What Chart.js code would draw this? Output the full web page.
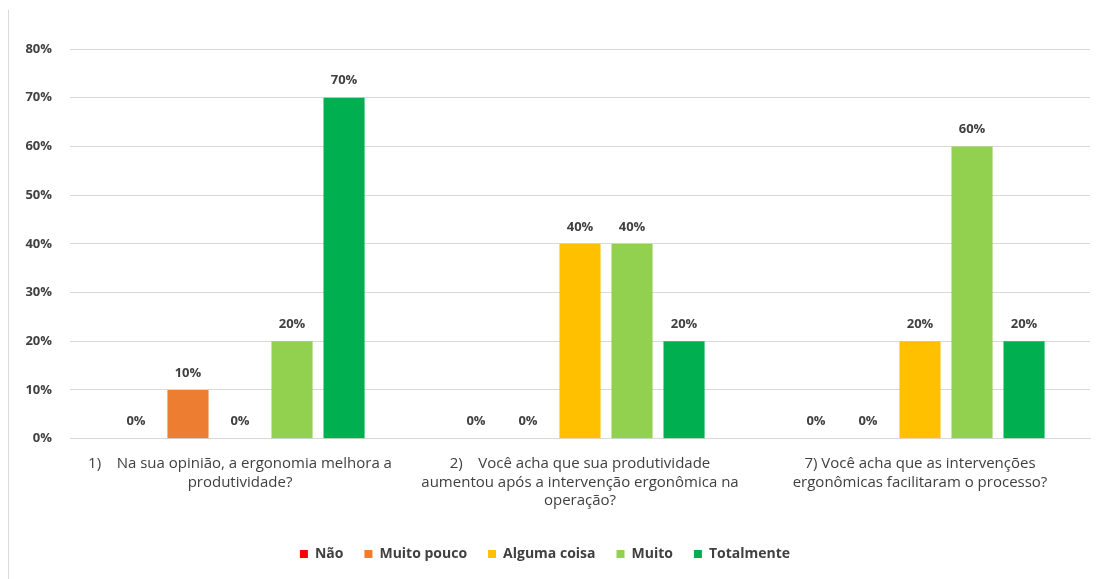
<!DOCTYPE html>
<html>
<head>
<meta charset="utf-8">
<script src="https://cdn.jsdelivr.net/npm/chart.js@4/dist/chart.umd.min.js"></script>
<style>
  html, body { margin: 0; padding: 0; background: #fff; }
  #wrap { position: relative; width: 1098px; height: 579px; }
  #frame { position: absolute; left: 8px; top: 10px; width: 1px; height: 569px; background: #d9d9d9; }
  canvas { position: absolute; left: 0; top: 0; }
</style>
</head>
<body>
<div id="wrap">
  <div id="frame"></div>
  <canvas id="c" width="1098" height="579"></canvas>
</div>
<script>
const categories = [
  ["1)    Na sua opinião, a ergonomia melhora a", "produtividade?"],
  ["2)    Você acha que sua produtividade", "aumentou após a intervenção ergonômica na", "operação?"],
  ["7) Você acha que as intervenções", "ergonômicas facilitaram o processo?"]
];
const seriesNames = ["Não", "Muito pouco", "Alguma coisa", "Muito", "Totalmente"];
const nao = [0, 0, 0];
const muitoPouco = [10, 0, 0];
const algumaCoisa = [0, 40, 20];
const muito = [20, 40, 60];
const totalmente = [70, 20, 20];
const yTicks = [0, 10, 20, 30, 40, 50, 60, 70, 80];

const colors = ["#FF0000", "#ED7D31", "#FFC000", "#92D050", "#00B050"];
const seriesValues = [nao, muitoPouco, algumaCoisa, muito, totalmente];
const textColor = "#404040";
const fontFamily = "'Open Sans', Lato, 'Liberation Sans', sans-serif";

// Writes each bar's value just above it
const valueLabels = {
  id: "valueLabels",
  afterDatasetsDraw(chart) {
    const ctx = chart.ctx;
    ctx.save();
    ctx.font = "bold 13px " + fontFamily;
    ctx.fillStyle = textColor;
    ctx.textAlign = "center";
    ctx.textBaseline = "middle";
    chart.data.datasets.forEach((ds, i) => {
      chart.getDatasetMeta(i).data.forEach((bar, j) => {
        ctx.fillText(ds.data[j] + "%", bar.x, bar.y - 17);
      });
    });
    ctx.restore();
  }
};

new Chart(document.getElementById("c"), {
  type: "bar",
  data: {
    labels: categories,
    datasets: seriesNames.map((name, i) => ({
      label: name,
      data: seriesValues[i],
      backgroundColor: colors[i],
      borderWidth: 0,
      barPercentage: 0.79,
      categoryPercentage: 0.765
    }))
  },
  options: {
    responsive: false,
    animation: false,
    layout: { padding: { top: 49, right: 8, bottom: 8, left: 0 } },
    plugins: {
      tooltip: { enabled: false },
      legend: {
        position: "bottom",
        labels: {
          boxWidth: 8,
          boxHeight: 8,
          padding: 21,
          color: textColor,
          font: { family: fontFamily, size: 14, weight: "bold" }
        }
      }
    },
    scales: {
      x: {
        grid: { display: false, drawTicks: false },
        border: { color: "#d9d9d9" },
        ticks: {
          color: textColor,
          padding: 16,
          maxRotation: 0,
          autoSkip: false,
          font: { family: fontFamily, size: 15, lineHeight: 1.23 }
        }
      },
      y: {
        min: 0,
        max: 80,
        afterFit(scale) { scale.width = 70; },
        afterBuildTicks(scale) { scale.ticks = yTicks.map(v => ({ value: v })); },
        grid: { color: "#d9d9d9", drawTicks: false },
        border: { display: false },
        ticks: {
          color: textColor,
          padding: 18,
          font: { family: fontFamily, size: 13, weight: "bold" },
          callback: v => v + "%"
        }
      }
    }
  },
  plugins: [valueLabels]
});
</script>
</body>
</html>
